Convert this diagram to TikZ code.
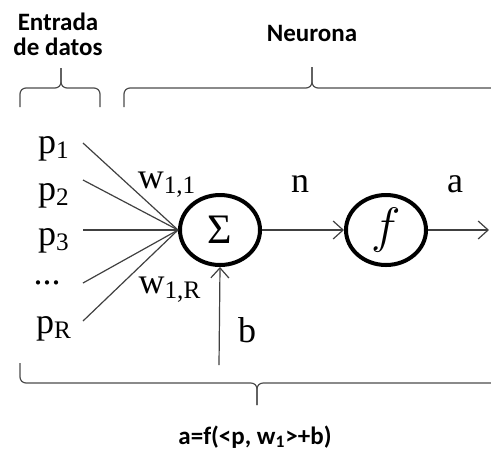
\documentclass[tikz,border=0pt]{standalone}
\usepackage{fontspec}
\setmainfont{Liberation Serif}
\newfontfamily\labelfont{Carlito}
\usetikzlibrary{shapes.geometric,arrows.meta}

\begin{document}
\begin{tikzpicture}[x=0.5pt, y=-0.5pt, font=\fontsize{18}{20}\selectfont]
\tikzstyle{unit}=[draw, ellipse, line width=2pt, minimum width=40pt, minimum height=35pt, inner sep=0pt]
\tikzstyle{caption}=[font=\labelfont\bfseries\fontsize{12.5}{12.5}\selectfont, align=center]
\tikzstyle{bracket}=[draw=black!70, line width=0.6pt, rounded corners=3pt]
\tikzstyle{wire}=[draw=black!75, line width=0.6pt]
\tikzstyle{flow}=[wire, -{Straight Barb[length=5pt,width=9pt]}]
\useasboundingbox (0,0) rectangle (491,451);

% titles and brackets
\node[caption] (entrada) at (58,34) {Entrada\\de datos};
\node[caption] (neurona) at (312,33) {Neurona};
\node[caption] (formula) at (255,437) {a=f(<p, w\textsubscript{1}>+b)};
\draw[bracket] (20,107) -- (20,88) -- (61,88) -- (61,68);
\draw[bracket] (100,107) -- (100,88) -- (61,88) -- (61,68);
\draw[bracket] (124,107) -- (124,88) -- (312,88) -- (312,67);
\draw[bracket] (491,88) -- (312,88) -- (312,67);
\draw[bracket] (20,363) -- (20,383) -- (257,383) -- (257,405);
\draw[bracket] (491,383) -- (257,383) -- (257,405);

% inputs
\node (p1) at (54,149) {p\textsubscript{1}};
\node (p2) at (54,196) {p\textsubscript{2}};
\node (p3) at (54,241) {p\textsubscript{3}};
\node (pdots) at (47,283) {...};
\node (pR) at (54,329) {p\textsubscript{R}};
\coordinate (t1) at (83,143);
\coordinate (t2) at (83,180);
\coordinate (t3) at (83,230);
\coordinate (tdots) at (83,283);
\coordinate (tR) at (83,321);

% neuron
\node[unit] (sum) at (220,230) {\fontsize{21}{21}\selectfont Σ};
\node[unit] (act) at (386,230) {\fontsize{23}{23}\selectfont$f$};
\coordinate (out) at (489,230);
\coordinate (bias) at (219,365);

\draw[wire] (t1) -- (sum.west);
\draw[wire] (t2) -- (sum.west);
\draw[wire] (t3) -- (sum.west);
\draw[wire] (tdots) -- (sum.west);
\draw[wire] (tR) -- (sum.west);
\draw[flow] (sum.east) -- (act.west);
\draw[flow] (act.east) -- (out);
\draw[flow] (bias) -- (sum.south);

% labels
\node (w11) at (167,185) {w\textsubscript{1,1}};
\node (w1R) at (170,290) {w\textsubscript{1,R}};
\node (n) at (300,184) {n};
\node (a) at (455,184) {a};
\node (b) at (247,330) {b};
\end{tikzpicture}
\end{document}
